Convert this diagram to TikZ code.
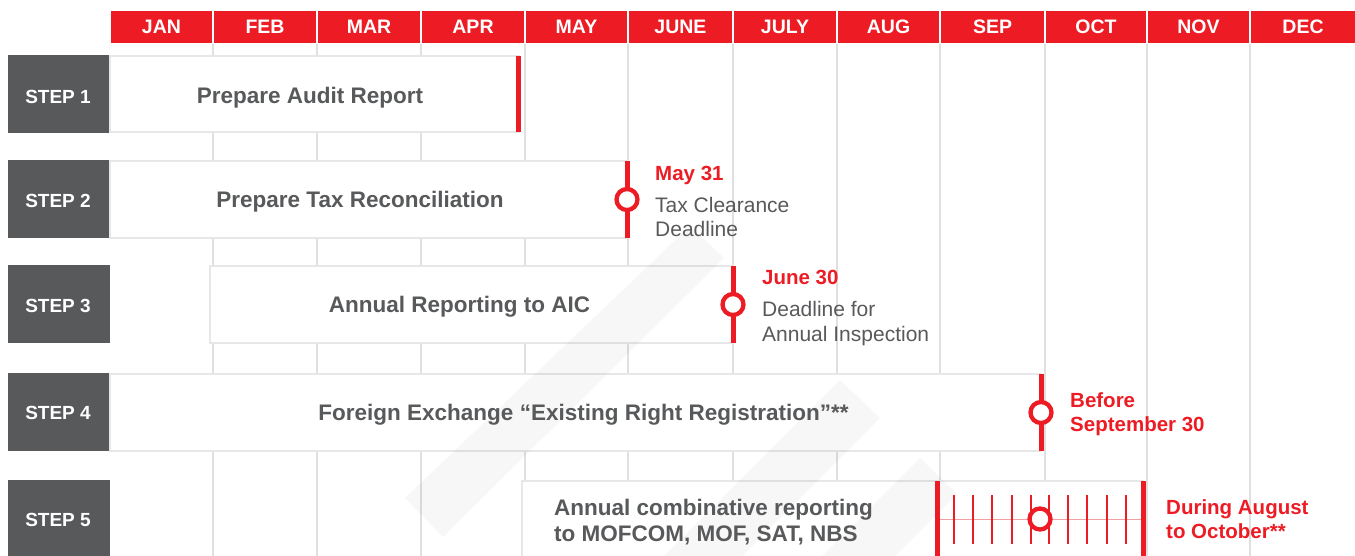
\documentclass[tikz,border=0pt]{standalone}
\usepackage{fontspec}
\setmainfont{Liberation Sans}
\definecolor{brandred}{RGB}{237,28,36}
\definecolor{stepgray}{RGB}{88,89,91}
\definecolor{boxline}{RGB}{230,231,232}
\definecolor{gridline}{RGB}{224,224,224}
\definecolor{rangeline}{RGB}{244,160,163}
\tikzset{
  monthcell/.style={fill=brandred, draw=white, line width=1.5pt, inner sep=0pt, outer sep=0pt,
    text=white, font=\fontsize{19.5}{22}\selectfont\bfseries, minimum height=33.5pt},
  stepbox/.style={fill=stepgray, inner sep=0pt, outer sep=0pt, minimum width=102pt, minimum height=78pt},
  steplabel/.style={text=white, font=\fontsize{19}{22}\selectfont\bfseries, inner sep=0pt, anchor=base},
  taskbox/.style={fill=white, draw=boxline, line width=2.4pt, inner sep=0pt, outer sep=0pt, anchor=north west},
  tasklabel/.style={text=stepgray, font=\fontsize{22.5}{26}\selectfont\bfseries, inner sep=0pt},
  redbar/.style={draw=brandred, line width=5pt},
  rangetick/.style={draw=brandred, line width=2.3pt},
  ring/.style={circle, draw=brandred, fill=white, line width=4.3pt, minimum size=21pt, inner sep=0pt},
  datelabel/.style={text=brandred, font=\fontsize{20.5}{24}\selectfont\bfseries, inner sep=0pt, anchor=base west},
  notelabel/.style={text=stepgray, font=\fontsize{21}{24}\selectfont, inner sep=0pt, anchor=base west},
  gridrule/.style={draw=gridline, line width=1.2pt},
  band/.style={fill=black, fill opacity=0.03},
}
\begin{document}
\begin{tikzpicture}[x=1pt,y=-1pt]
\useasboundingbox (0,0) rectangle (1355,555);
\begin{scope}
\clip (0,0) rectangle (1355,555);

% grid lines
\foreach \gx in {213,317,421,525,628,733,837,940,1045,1147,1250}
  \draw[gridrule] (\gx,43) -- (\gx,560);

% header months
\foreach \a/\b/\m [count=\i] in {110/213/JAN,213/317/FEB,317/421/MAR,421/525/APR,525/628/MAY,628/733/JUNE,733/837/JULY,837/940/AUG,940/1045/SEP,1045/1147/OCT,1147/1250/NOV,1250/1356/DEC}
  \node[monthcell, minimum width={(\b-\a)*1pt}] (m\i) at ({(\a+\b)/2},26.5) {\m};

% step boxes
\node[stepbox] (s1) at (59,94) {};
\node[stepbox] (s2) at (59,199) {};
\node[stepbox] (s3) at (59,304) {};
\node[stepbox] (s4) at (59,412) {};
\node[stepbox] (s5) at (59,519) {};
\node[steplabel] (sl1) at (58,103) {STEP 1};
\node[steplabel] (sl2) at (58,207.5) {STEP 2};
\node[steplabel] (sl3) at (58,312.5) {STEP 3};
\node[steplabel] (sl4) at (58,419.5) {STEP 4};
\node[steplabel] (sl5) at (58,526) {STEP 5};

% task boxes
\node[taskbox, minimum width=409pt, minimum height=76pt] (t1) at (110,56) {};
\node[taskbox, minimum width=517pt, minimum height=77pt] (t2) at (110,161) {};
\node[taskbox, minimum width=523pt, minimum height=77pt] (t3) at (210,266) {};
\node[taskbox, minimum width=931pt, minimum height=77pt] (t4) at (110,374) {};
\node[taskbox, minimum width=621pt, minimum height=100pt] (t5) at (522,481) {};

% watermark bands
\fill[band] (405,498) -- (443,537) -- (724,258) -- (690,226) -- cycle;
\fill[band] (840,380) -- (880,418) -- (680,618) -- (640,580) -- cycle;
\fill[band] (920,458) -- (957,494) -- (807,644) -- (770,608) -- cycle;

% task labels
\node[tasklabel, anchor=base] (l1) at (310,103) {Prepare Audit Report};
\node[tasklabel, anchor=base] (l2) at (360,207) {Prepare Tax Reconciliation};
\node[tasklabel, anchor=base] (l3) at (459.5,312) {Annual Reporting to AIC};
\node[tasklabel, anchor=base] (l4) at (583.5,420) {Foreign Exchange “Existing Right Registration”**};
\node[tasklabel, anchor=base west] (l5a) at (554,515) {Annual combinative reporting};
\node[tasklabel, anchor=base west] (l5b) at (554,541) {to MOFCOM, MOF, SAT, NBS};

% deadline markers
\draw[redbar] ([xshift=-1pt]t1.north east) -- ([xshift=-1pt]t1.south east);
\draw[redbar] (t2.north east) -- (t2.south east);
\node[ring] (c2) at (t2.east) {};
\draw[redbar] (t3.north east) -- (t3.south east);
\node[ring] (c3) at (t3.east) {};
\draw[redbar] (t4.north east) -- (t4.south east);
\node[ring] (c4) at (t4.east) {};

% step 5 range
\coordinate (r0) at (937,481);
\coordinate (r1) at (1143,481);
\draw[rangeline, line width=1pt] (937,519) -- (1143,519);
\foreach \tx in {954,973,992,1012,1031,1049,1068,1087,1107,1126}
  \draw[rangetick] (\tx,495) -- (\tx,544);
\draw[redbar] (r0) -- ++(0,90);
\draw[redbar] (r1) -- ++(0,90);
\node[ring] (c5) at (1040,519) {};
\end{scope}

% annotations
\node[datelabel] (d2) at (655,180) {May 31};
\node[notelabel] (n2a) at (655,212) {Tax Clearance};
\node[notelabel] (n2b) at (655,236) {Deadline};
\node[datelabel] (d3) at (762,284) {June 30};
\node[notelabel] (n3a) at (762,316) {Deadline for};
\node[notelabel] (n3b) at (762,341) {Annual Inspection};
\node[datelabel] (d4a) at (1070,407) {Before};
\node[datelabel] (d4b) at (1070,431) {September 30};
\node[datelabel] (d5a) at (1166,514) {During August};
\node[datelabel] (d5b) at (1166,538) {to October**};
\end{tikzpicture}
\end{document}
